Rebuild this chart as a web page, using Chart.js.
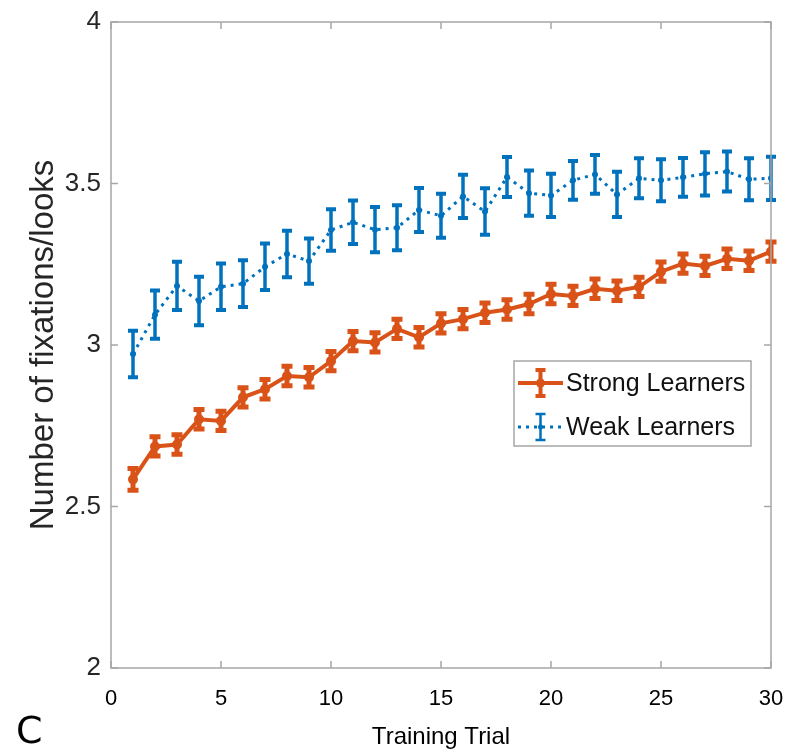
<!DOCTYPE html>
<html>
<head>
<meta charset="utf-8">
<script src="https://cdn.jsdelivr.net/npm/chart.js@4.4.1/dist/chart.umd.min.js"></script>
<style>
  html, body { margin: 0; padding: 0; background: #ffffff; }
  #wrap { position: relative; width: 803px; height: 752px; overflow: hidden; }
  #c { position: absolute; left: 0; top: 0; }
  #panel { position: absolute; left: 16px; top: 711px; font-family: "DejaVu Sans", sans-serif; font-size: 38px; color: #000; line-height: 1; }
</style>
</head>
<body>
<div id="wrap">
  <canvas id="c" width="803" height="752"></canvas>
  <div id="panel">C</div>
</div>
<script>
// ---- data ----
const trials = [1,2,3,4,5,6,7,8,9,10,11,12,13,14,15,16,17,18,19,20,21,22,23,24,25,26,27,28,29,30];
const strongMean = [2.584, 2.686, 2.692, 2.770, 2.765, 2.838, 2.863, 2.904, 2.900, 2.950,
                    3.012, 3.008, 3.050, 3.024, 3.067, 3.080, 3.100, 3.110, 3.127, 3.158,
                    3.152, 3.174, 3.168, 3.180, 3.227, 3.252, 3.245, 3.267, 3.261, 3.289];
const strongErr  = [0.034, 0.030, 0.030, 0.030, 0.030, 0.030, 0.030, 0.030, 0.030, 0.030,
                    0.030, 0.030, 0.030, 0.030, 0.030, 0.030, 0.030, 0.030, 0.030, 0.030,
                    0.030, 0.030, 0.030, 0.030, 0.030, 0.030, 0.030, 0.030, 0.030, 0.030];
const weakMean   = [2.972, 3.094, 3.183, 3.136, 3.180, 3.190, 3.242, 3.282, 3.260, 3.356,
                    3.380, 3.357, 3.363, 3.418, 3.400, 3.460, 3.413, 3.520, 3.470, 3.463,
                    3.510, 3.528, 3.466, 3.516, 3.510, 3.519, 3.530, 3.537, 3.513, 3.516];
const weakErr    = [0.072, 0.075, 0.075, 0.075, 0.072, 0.072, 0.072, 0.072, 0.070, 0.064,
                    0.067, 0.070, 0.070, 0.068, 0.068, 0.067, 0.072, 0.062, 0.070, 0.067,
                    0.060, 0.060, 0.070, 0.062, 0.065, 0.060, 0.067, 0.062, 0.065, 0.067];
const seriesLabels = ["Strong Learners", "Weak Learners"];
const xTickValues = [0, 5, 10, 15, 20, 25, 30];
const yTickValues = [2, 2.5, 3, 3.5, 4];
const xTitle = "Training Trial";
const yTitle = "Number of fixations/looks";

const ORANGE = "#D95319";
const BLUE = "#0072BD";
const AXIS = "#a6a6a6";

const toPts = (xs, ys) => xs.map((x, i) => ({ x: x, y: ys[i] }));

// error bars drawn through the chart scales
const errorBarPlugin = {
  id: "errorBars",
  afterDatasetsDraw(chart) {
    const ctx = chart.ctx;
    const ys = chart.scales.y;
    chart.data.datasets.forEach((ds, di) => {
      const meta = chart.getDatasetMeta(di);
      const err = ds.errors;
      ctx.save();
      ctx.strokeStyle = ds.borderColor;
      ctx.setLineDash([]);
      ctx.lineCap = "butt";
      meta.data.forEach((pt, j) => {
        const v = ds.data[j].y;
        const top = ys.getPixelForValue(v + err[j]);
        const bot = ys.getPixelForValue(v - err[j]);
        const hw = ds.capHalf;
        ctx.lineWidth = ds.errLineWidth;
        ctx.beginPath();
        ctx.moveTo(pt.x, top); ctx.lineTo(pt.x, bot);
        ctx.stroke();
        ctx.lineWidth = ds.capWidth;
        ctx.beginPath();
        ctx.moveTo(pt.x - hw, top); ctx.lineTo(pt.x + hw, top);
        ctx.moveTo(pt.x - hw, bot); ctx.lineTo(pt.x + hw, bot);
        ctx.stroke();
      });
      ctx.restore();
    });
  }
};

// box + inward ticks on all four sides (MATLAB style)
const boxPlugin = {
  id: "boxTicks",
  afterDraw(chart) {
    const ctx = chart.ctx;
    const a = chart.chartArea;
    const xs = chart.scales.x, ys = chart.scales.y;
    const tl = 7;
    ctx.save();
    ctx.strokeStyle = AXIS;
    ctx.lineWidth = 1.5;
    ctx.strokeRect(a.left, a.top, a.right - a.left, a.bottom - a.top);
    ctx.beginPath();
    xTickValues.forEach(v => {
      const px = xs.getPixelForValue(v);
      ctx.moveTo(px, a.bottom); ctx.lineTo(px, a.bottom - tl);
      ctx.moveTo(px, a.top); ctx.lineTo(px, a.top + tl);
    });
    yTickValues.forEach(v => {
      const py = ys.getPixelForValue(v);
      ctx.moveTo(a.left, py); ctx.lineTo(a.left + tl, py);
      ctx.moveTo(a.right, py); ctx.lineTo(a.right - tl, py);
    });
    ctx.stroke();
    ctx.restore();
  }
};

// legend box inside the plot
const legendPlugin = {
  id: "insideLegend",
  afterDraw(chart) {
    const ctx = chart.ctx;
    const bx = 514, by = 361, bw = 237, bh = 85;
    ctx.save();
    ctx.fillStyle = "#ffffff";
    ctx.fillRect(bx, by, bw, bh);
    ctx.strokeStyle = "#a6a6a6";
    ctx.lineWidth = 1.5;
    ctx.strokeRect(bx, by, bw, bh);
    const rows = [by + 22, by + 66];
    chart.data.datasets.forEach((ds, i) => {
      const y = rows[i];
      const x0 = bx + 4, x1 = bx + 49, xc = (x0 + x1) / 2;
      ctx.strokeStyle = ds.borderColor;
      ctx.lineWidth = ds.borderWidth;
      ctx.setLineDash(ds.borderDash || []);
      ctx.beginPath(); ctx.moveTo(x0, y); ctx.lineTo(x1, y); ctx.stroke();
      ctx.setLineDash([]);
      ctx.lineWidth = ds.errLineWidth - 1;
      ctx.beginPath();
      ctx.moveTo(xc, y - 13); ctx.lineTo(xc, y + 13);
      ctx.moveTo(xc - 5, y - 13); ctx.lineTo(xc + 5, y - 13);
      ctx.moveTo(xc - 5, y + 13); ctx.lineTo(xc + 5, y + 13);
      ctx.stroke();
      if (ds.pointRadius > 0) {
        ctx.fillStyle = ds.borderColor;
        ctx.beginPath(); ctx.arc(xc, y, ds.pointRadius - 0.5, 0, Math.PI * 2); ctx.fill();
      }
      ctx.fillStyle = "#111111";
      ctx.font = "25px 'Liberation Sans', Arial, sans-serif";
      ctx.textBaseline = "middle";
      ctx.textAlign = "left";
      ctx.fillText(ds.label, x1 + 3, y + 1);
    });
    ctx.restore();
  }
};

new Chart(document.getElementById("c"), {
  type: "line",
  data: {
    datasets: [
      {
        label: seriesLabels[0],
        data: toPts(trials, strongMean),
        errors: strongErr,
        borderColor: ORANGE,
        backgroundColor: ORANGE,
        borderWidth: 4,
        pointRadius: 5,
        pointBackgroundColor: ORANGE,
        pointBorderWidth: 0,
        errLineWidth: 5,
        capWidth: 5,
        capHalf: 5.5,
        tension: 0
      },
      {
        label: seriesLabels[1],
        data: toPts(trials, weakMean),
        errors: weakErr,
        borderColor: BLUE,
        backgroundColor: BLUE,
        borderWidth: 3,
        borderDash: [3, 5],
        pointRadius: 3,
        pointBackgroundColor: BLUE,
        pointBorderWidth: 0,
        errLineWidth: 3.5,
        capWidth: 4,
        capHalf: 5,
        tension: 0
      }
    ]
  },
  options: {
    responsive: false,
    animation: false,
    devicePixelRatio: 1,
    layout: { padding: { left: 0, right: 32, top: 22, bottom: 0 } },
    plugins: { legend: { display: false }, tooltip: { enabled: false } },
    scales: {
      x: {
        type: "linear",
        min: 0, max: 30,
        afterBuildTicks: s => { s.ticks = xTickValues.map(v => ({ value: v })); },
        afterFit: s => { s.height = 84; },
        grid: { display: false },
        border: { display: false },
        ticks: {
          color: "#000000",
          padding: 10,
          maxRotation: 0,
          callback: v => String(v),
          font: { family: "'Liberation Sans', Arial, sans-serif", size: 22 }
        },
        title: {
          display: true,
          text: xTitle,
          color: "#000000",
          padding: { top: 8, bottom: 0 },
          font: { family: "'Liberation Sans', Arial, sans-serif", size: 24 }
        }
      },
      y: {
        type: "linear",
        min: 2, max: 4,
        afterBuildTicks: s => { s.ticks = yTickValues.map(v => ({ value: v })); },
        afterFit: s => { s.width = 111; },
        grid: { display: false },
        border: { display: false },
        ticks: {
          color: "#262626",
          padding: 2,
          callback: v => String(v),
          font: { family: "'Liberation Sans', Arial, sans-serif", size: 26 }
        },
        title: {
          display: true,
          text: yTitle,
          color: "#262626",
          padding: { top: 24, bottom: 0 },
          font: { family: "'Liberation Sans', Arial, sans-serif", size: 33 }
        }
      }
    }
  },
  plugins: [errorBarPlugin, boxPlugin, legendPlugin]
});
</script>
</body>
</html>
